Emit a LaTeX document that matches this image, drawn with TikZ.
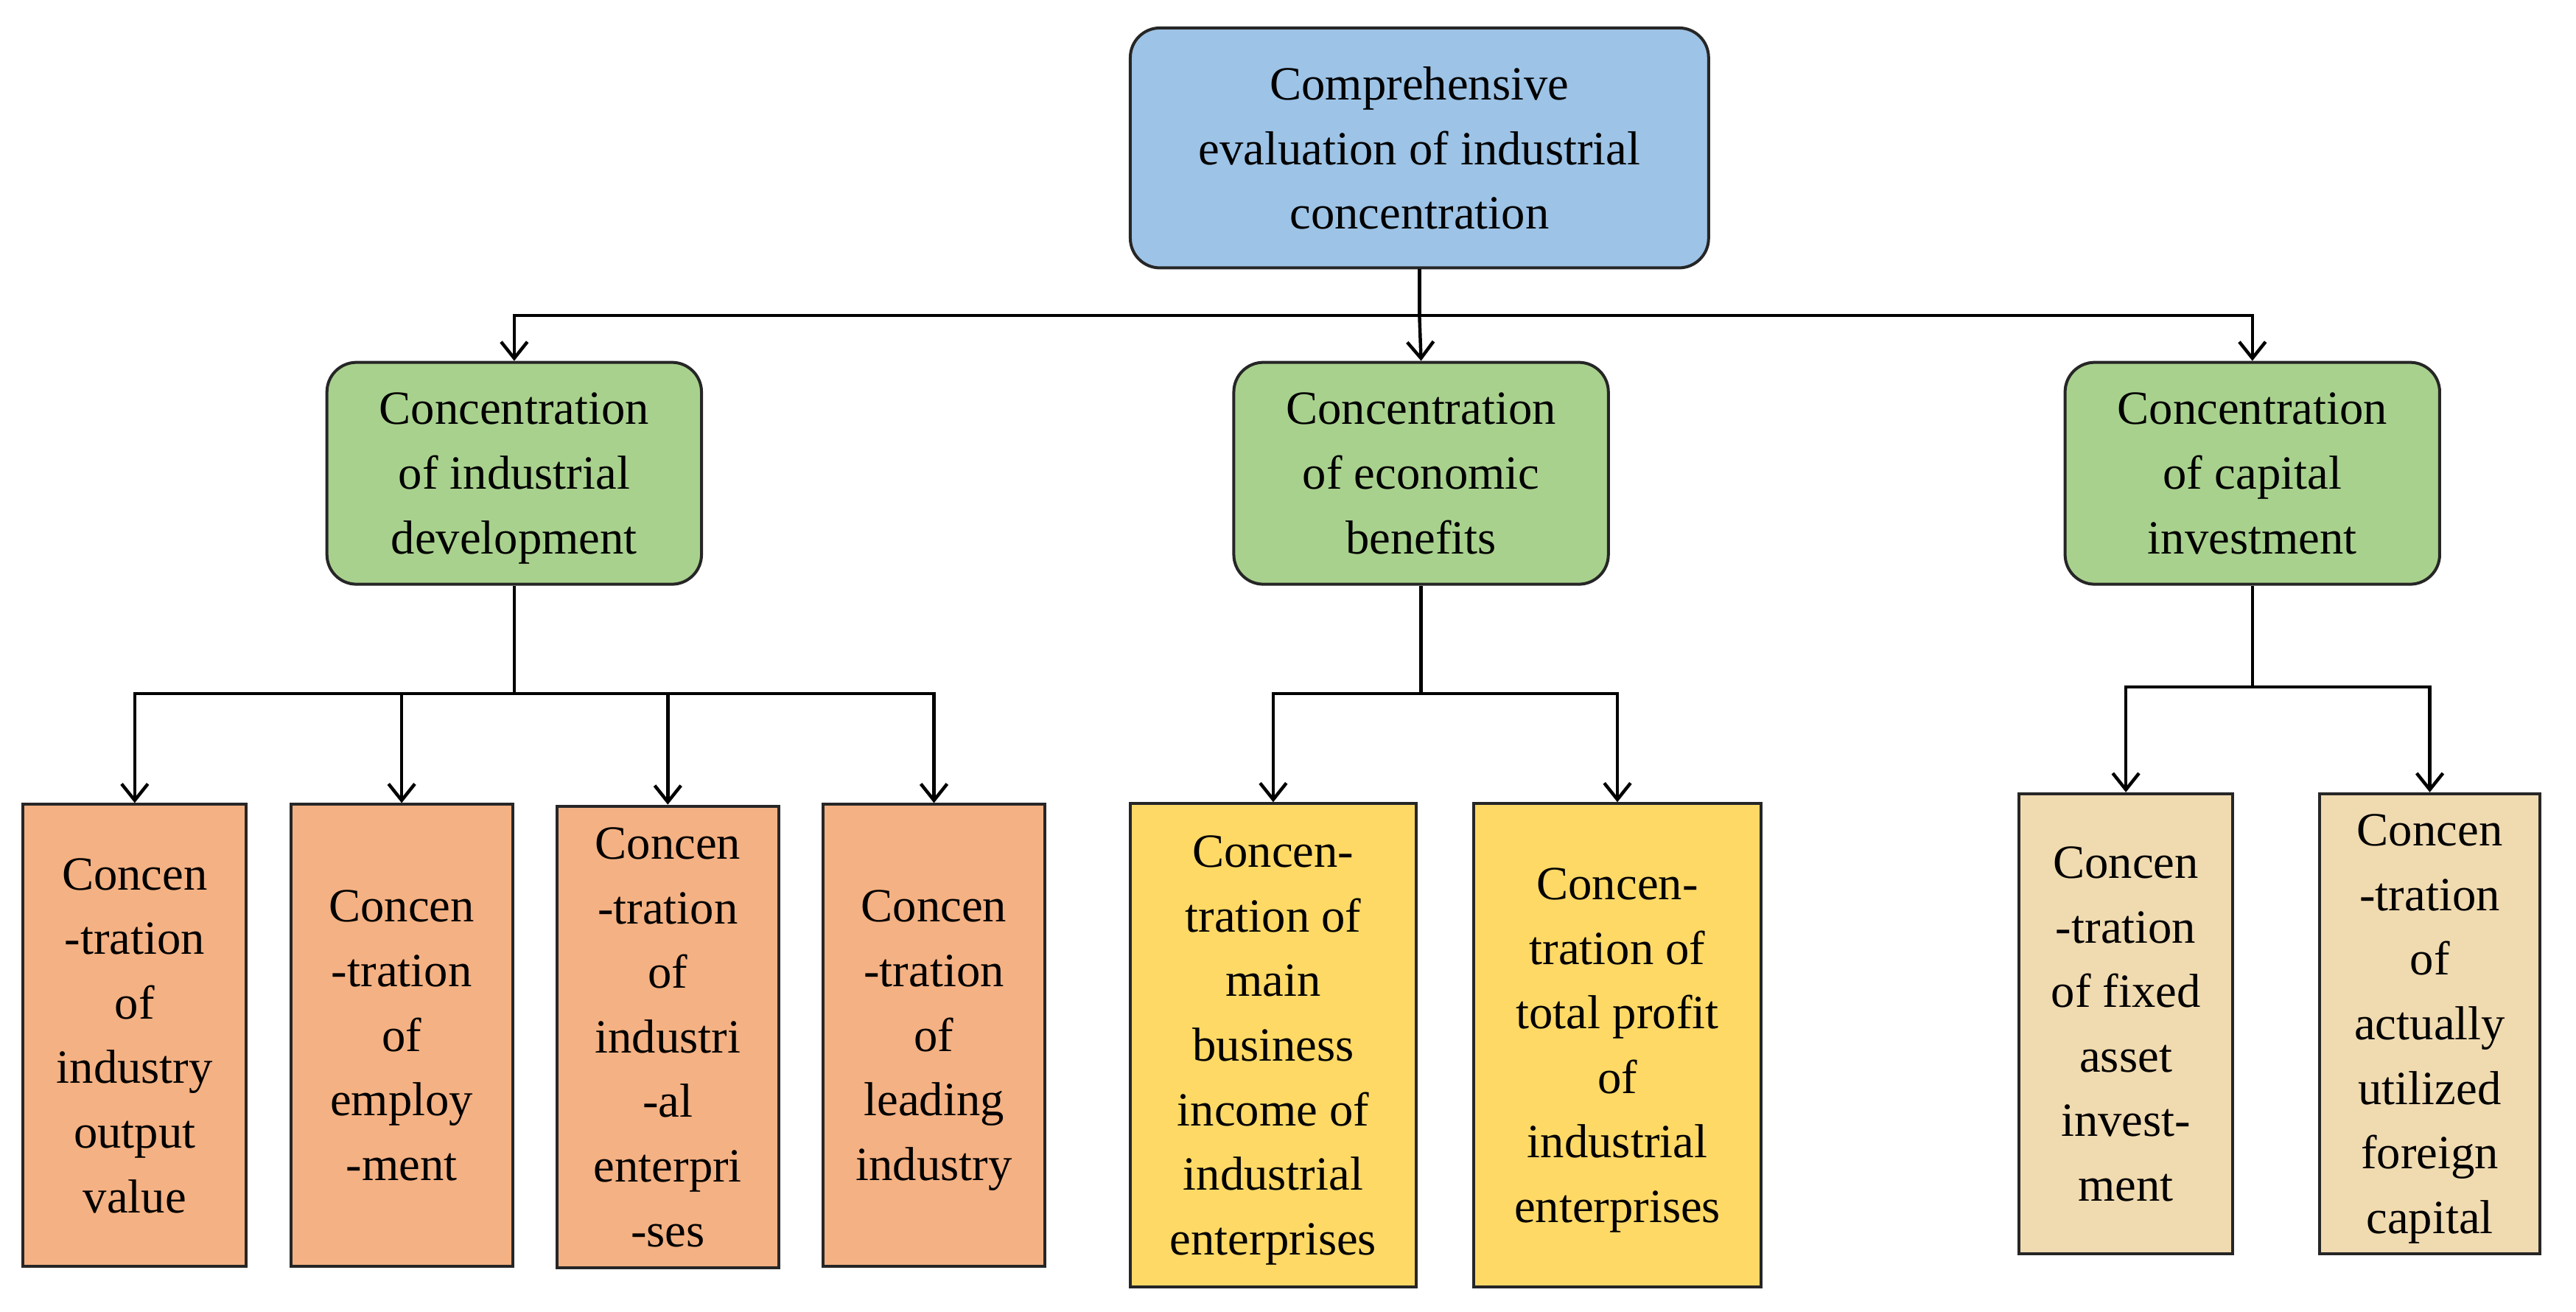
\documentclass[tikz,border=0pt]{standalone}
\usepackage{fontspec}
\setmainfont{Liberation Serif}
\usetikzlibrary{arrows.meta}
\definecolor{cblue}{HTML}{9DC3E6}
\definecolor{cgreen}{HTML}{A9D18E}
\definecolor{corange}{HTML}{F4B183}
\definecolor{cyellow}{HTML}{FFD966}
\definecolor{ctan}{HTML}{F0DAB0}
\begin{document}
\begin{tikzpicture}[x=1pt,y=-1pt,
  box/.style={draw=black!85,line width=1.8pt,align=center,inner sep=0pt,
    font=\fontsize{29}{39.3}\selectfont,text depth=0pt},
  rbox/.style={box,rounded corners=18pt},
  con/.style={line width=2pt,draw=black},
  arr/.style={con,-{Straight Barb[length=10pt,width=16pt,line width=2pt]}}]
\useasboundingbox (0,0) rectangle (1568,798);
\node[rbox,fill=cblue,minimum width=352pt,minimum height=146pt] (top) at (864,90)
  {Comprehensive\\evaluation of industrial\\concentration};
\foreach \n/\x/\t in {g1/313/{Concentration\\of industrial\\development},
                      g2/865/{Concentration\\of economic\\benefits},
                      g3/1371/{Concentration\\of capital\\investment}}
  \node[rbox,fill=cgreen,minimum width=228pt,minimum height=135pt] (\n) at (\x,288) {\t};
\node[box,fill=corange,minimum width=136pt,minimum height=281pt] (o1) at (82,630)
  {Concen\\-tration\\of\\industry\\output\\value};
\node[box,fill=corange,minimum width=135pt,minimum height=281pt] (o2) at (244.5,630)
  {Concen\\-tration\\of\\employ\\-ment};
\node[box,fill=corange,minimum width=135pt,minimum height=281pt] (o3) at (406.5,631)
  {Concen\\-tration\\of\\industri\\-al\\enterpri\\-ses};
\node[box,fill=corange,minimum width=135pt,minimum height=281pt] (o4) at (568.5,630)
  {Concen\\-tration\\of\\leading\\industry};
\node[box,fill=cyellow,minimum width=174pt,minimum height=294pt] (y1) at (775,636)
  {Concen-\\tration of\\main\\business\\income of\\industrial\\enterprises};
\node[box,fill=cyellow,minimum width=175pt,minimum height=294pt] (y2) at (984.5,636)
  {Concen-\\tration of\\total profit\\of\\industrial\\enterprises};
\node[box,fill=ctan,minimum width=130pt,minimum height=280pt] (t1) at (1294,623)
  {Concen\\-tration\\of fixed\\asset\\invest-\\ment};
\node[box,fill=ctan,minimum width=134pt,minimum height=280pt] (t2) at (1479,623)
  {Concen\\-tration\\of\\actually\\utilized\\foreign\\capital};
% top connectors
\coordinate (h0) at (864,192);
\draw[con] (top.south) -- (h0);
\draw[arr] (h0) -| (g1.north);
\draw[arr] (h0) -| (g3.north);
\draw[arr] (h0) -- (g2.north);
% left
\coordinate (h1) at (313,422);
\draw[con] (g1.south) -- (h1);
\foreach \b in {o1,o2,o3,o4} \draw[arr] (h1) -| (\b.north);
% middle
\coordinate (h2) at (865,422);
\draw[con] (g2.south) -- (h2);
\foreach \b in {y1,y2} \draw[arr] (h2) -| (\b.north);
% right
\coordinate (h3) at (1371,418);
\draw[con] (g3.south) -- (h3);
\foreach \b in {t1,t2} \draw[arr] (h3) -| (\b.north);
\end{tikzpicture}
\end{document}
